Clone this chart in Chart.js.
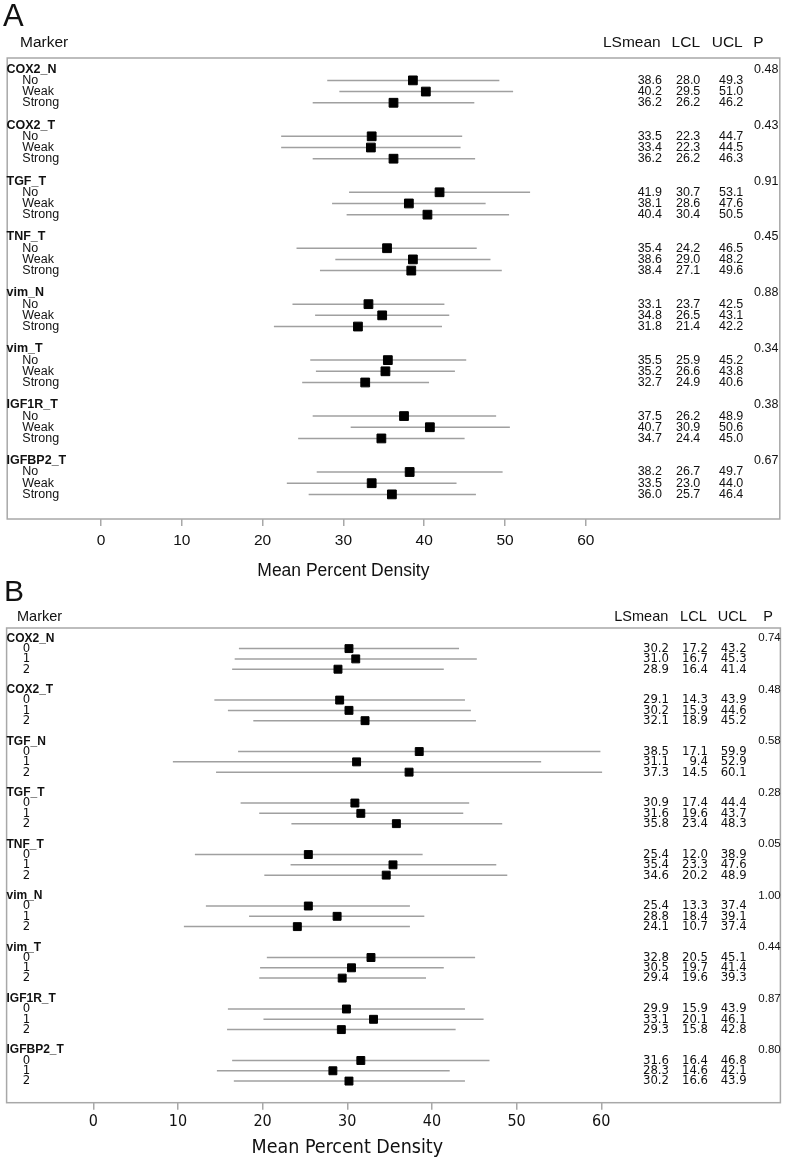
<!DOCTYPE html>
<html>
<head>
<meta charset="utf-8">
<script src="https://cdn.jsdelivr.net/npm/chart.js@4.4.1/dist/chart.umd.min.js"></script>
<style>
body { margin: 0; background: #fff; }
canvas { display: block; }
</style>
</head>
<body>
<canvas id="chartA" width="787" height="580"></canvas>
<canvas id="chartB" width="787" height="578"></canvas>
<script>
// Panel A data
const markersA = ['COX2_N', 'COX2_T', 'TGF_T', 'TNF_T', 'vim_N', 'vim_T', 'IGF1R_T', 'IGFBP2_T'];
const levelsA = ['No', 'Weak', 'Strong'];
const lsmeanA = [[38.6, 40.2, 36.2], [33.5, 33.4, 36.2], [41.9, 38.1, 40.4], [35.4, 38.6, 38.4],
                 [33.1, 34.8, 31.8], [35.5, 35.2, 32.7], [37.5, 40.7, 34.7], [38.2, 33.5, 36.0]];
const lclA = [[28.0, 29.5, 26.2], [22.3, 22.3, 26.2], [30.7, 28.6, 30.4], [24.2, 29.0, 27.1],
              [23.7, 26.5, 21.4], [25.9, 26.6, 24.9], [26.2, 30.9, 24.4], [26.7, 23.0, 25.7]];
const uclA = [[49.3, 51.0, 46.2], [44.7, 44.5, 46.3], [53.1, 47.6, 50.5], [46.5, 48.2, 49.6],
              [42.5, 43.1, 42.2], [45.2, 43.8, 40.6], [48.9, 50.6, 45.0], [49.7, 44.0, 46.4]];
const pA = ['0.48', '0.43', '0.91', '0.45', '0.88', '0.34', '0.38', '0.67'];

// Panel B data
const markersB = ['COX2_N', 'COX2_T', 'TGF_N', 'TGF_T', 'TNF_T', 'vim_N', 'vim_T', 'IGF1R_T', 'IGFBP2_T'];
const levelsB = ['0', '1', '2'];
const lsmeanB = [[30.2, 31.0, 28.9], [29.1, 30.2, 32.1], [38.5, 31.1, 37.3], [30.9, 31.6, 35.8], [25.4, 35.4, 34.6],
                 [25.4, 28.8, 24.1], [32.8, 30.5, 29.4], [29.9, 33.1, 29.3], [31.6, 28.3, 30.2]];
const lclB = [[17.2, 16.7, 16.4], [14.3, 15.9, 18.9], [17.1, 9.4, 14.5], [17.4, 19.6, 23.4], [12.0, 23.3, 20.2],
              [13.3, 18.4, 10.7], [20.5, 19.7, 19.6], [15.9, 20.1, 15.8], [16.4, 14.6, 16.6]];
const uclB = [[43.2, 45.3, 41.4], [43.9, 44.6, 45.2], [59.9, 52.9, 60.1], [44.4, 43.7, 48.3], [38.9, 47.6, 48.9],
              [37.4, 39.1, 37.4], [45.1, 41.4, 39.3], [43.9, 46.1, 42.8], [46.8, 42.1, 43.9]];
const pB = ['0.74', '0.48', '0.58', '0.28', '0.05', '1.00', '0.44', '0.87', '0.80'];

const xTicks = [0, 10, 20, 30, 40, 50, 60];

const SANS = '"Liberation Sans", Arial, sans-serif';
const NARROW = '"Liberation Sans Narrow", "Arial Narrow", "DejaVu Sans Condensed", sans-serif';
const ROWS_PER_GROUP = 5; // header, three levels, blank

function buildDatasets(lsmean, lcl, ucl, size) {
    const datasets = [];
    const means = [];
    lsmean.forEach((group, g) => {
        group.forEach((m, l) => {
            const row = g * ROWS_PER_GROUP + l + 1;
            datasets.push({
                data: [{ x: lcl[g][l], y: row }, { x: ucl[g][l], y: row }],
                showLine: true,
                borderColor: '#a0a0a0',
                borderWidth: 1.5,
                pointRadius: 0,
                order: 1
            });
            means.push({ x: m, y: row });
        });
    });
    // squares go on top of the interval lines
    datasets.push({
        data: means,
        pointStyle: 'rect',
        pointRadius: size,
        backgroundColor: '#000',
        borderColor: '#000',
        borderWidth: 1,
        order: 0
    });
    return datasets;
}

// frame, labels and the value table
function tablePlugin(p) {
    return {
        id: 'table',
        afterDraw(chart) {
            const ctx = chart.ctx;
            const area = chart.chartArea;
            const xs = chart.scales.x;
            const ys = chart.scales.y;
            ctx.save();
            ctx.strokeStyle = '#a8a8a8';
            ctx.lineWidth = 1.5;
            ctx.strokeRect(area.left, area.top, area.right - area.left, area.bottom - area.top);

            ctx.fillStyle = '#111';
            ctx.textBaseline = 'middle';
            ctx.textAlign = 'left';
            ctx.font = p.letterFont;
            ctx.fillText(p.letter, p.letterX, p.letterY);
            ctx.font = p.headFont;
            ctx.fillText('Marker', p.markerX, p.headY);
            ctx.fillText('P', p.headP, p.headY);
            ctx.textAlign = 'right';
            ['LSmean', 'LCL', 'UCL'].forEach((h, i) => ctx.fillText(h, p.headCols[i], p.headY));

            p.markers.forEach((name, g) => {
                const hy = ys.getPixelForValue(g * ROWS_PER_GROUP);
                ctx.textAlign = 'left';
                ctx.font = p.groupFont;
                ctx.fillText(name, p.groupX, hy);
                ctx.font = p.pFont;
                ctx.fillText(p.pvals[g], p.pX, hy);
                p.levels.forEach((lev, l) => {
                    const ry = ys.getPixelForValue(g * ROWS_PER_GROUP + l + 1);
                    ctx.textAlign = 'left';
                    ctx.font = p.levelFont;
                    ctx.fillText(lev, p.levelX, ry);
                    ctx.textAlign = 'right';
                    ctx.font = p.numFont;
                    [p.lsmean, p.lcl, p.ucl].forEach((arr, c) => {
                        ctx.fillText(arr[g][l].toFixed(1), p.cols[c], ry);
                    });
                });
            });

            // axis title sits under the middle of the tick range
            const mid = (xs.getPixelForValue(xTicks[0]) + xs.getPixelForValue(xTicks[xTicks.length - 1])) / 2;
            ctx.textAlign = 'center';
            ctx.font = p.titleFont;
            ctx.fillText('Mean Percent Density', mid, p.titleY);
            ctx.restore();
        }
    };
}

function renderPanel(id, p) {
    const canvas = document.getElementById(id);
    return new Chart(canvas.getContext('2d'), {
        type: 'scatter',
        data: { datasets: buildDatasets(p.lsmean, p.lcl, p.ucl, p.pointSize) },
        options: {
            responsive: false,
            animation: false,
            layout: { padding: p.padding },
            plugins: { legend: { display: false }, tooltip: { enabled: false } },
            scales: {
                x: {
                    type: 'linear',
                    min: p.xMin,
                    max: p.xMax,
                    afterBuildTicks: s => { s.ticks = xTicks.map(v => ({ value: v })); },
                    afterFit: s => { s.height = p.axisHeight; },
                    grid: { drawOnChartArea: false, tickLength: 7, color: '#a8a8a8', lineWidth: 1.5 },
                    border: { display: false },
                    ticks: { font: p.tickFont, color: '#111', padding: p.tickPadding, maxRotation: 0 }
                },
                y: {
                    type: 'linear',
                    min: -1,
                    max: p.yMax,
                    reverse: true,
                    display: false
                }
            }
        },
        plugins: [tablePlugin(p)]
    });
}

renderPanel('chartA', {
    markers: markersA, levels: levelsA, lsmean: lsmeanA, lcl: lclA, ucl: uclA, pvals: pA,
    xMin: -11.6, xMax: 84.0, yMax: 40.2,
    padding: { left: 2, right: 4, top: 58, bottom: 0 }, axisHeight: 61,
    pointSize: 6.2,
    tickFont: { family: SANS, size: 15.5 }, tickPadding: 5,
    letter: 'A', letterFont: '31px ' + SANS, letterX: 3, letterY: 17,
    headFont: '15.5px ' + SANS, headY: 43, markerX: 20,
    headCols: [660.7, 700, 742.7], headP: 753.3,
    cols: [662, 700.3, 743.3], pX: 754,
    groupFont: 'bold 12.5px ' + SANS, groupX: 6.5,
    levelFont: '12.5px ' + SANS, levelX: 22.3,
    numFont: '12.5px ' + SANS, pFont: '12.5px ' + SANS,
    titleFont: '17.5px ' + SANS, titleY: 571
});

renderPanel('chartB', {
    markers: markersB, levels: levelsB, lsmean: lsmeanB, lcl: lclB, ucl: uclB, pvals: pB,
    xMin: -10.24, xMax: 81.16, yMax: 45.1,
    padding: { left: 2, right: 6, top: 48, bottom: 0 }, axisHeight: 55.3,
    pointSize: 5.6,
    tickFont: { family: NARROW, size: 16 }, tickPadding: 3,
    letter: 'B', letterFont: '30px ' + SANS, letterX: 4, letterY: 13,
    headFont: '14.5px ' + SANS, headY: 36.5, markerX: 17,
    headCols: [668.3, 706.7, 746.7], headP: 763.3,
    cols: [669, 708, 746.7], pX: 758.3,
    groupFont: 'bold 12px ' + SANS, groupX: 6.5,
    levelFont: '13px ' + NARROW, levelX: 22.7,
    numFont: '13px ' + NARROW, pFont: '11.5px ' + SANS,
    titleFont: '19.5px ' + NARROW, titleY: 568
});
</script>
</body>
</html>
